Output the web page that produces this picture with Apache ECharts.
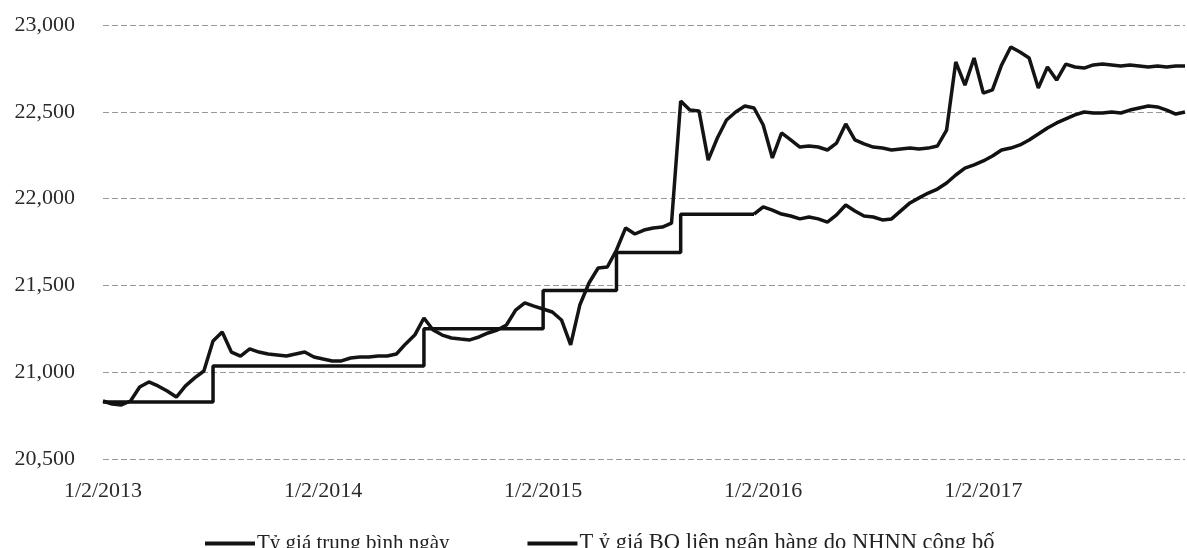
<!DOCTYPE html>
<html>
<head>
<meta charset="utf-8">
<script src="https://cdn.jsdelivr.net/npm/echarts@6/dist/echarts.min.js"></script>
<style>
html,body{margin:0;padding:0;background:#fff;}
#chart{width:1187px;height:548px;}
</style>
</head>
<body>
<div id="chart"></div>
<script>
// Categories (semi-monthly dates, m/d/yyyy)
const categories = (
"1/2/2013,1/16/2013,2/2/2013,2/16/2013,3/2/2013,3/16/2013,4/2/2013,4/16/2013,5/2/2013,5/16/2013,6/2/2013,6/16/2013,7/2/2013,7/16/2013,8/2/2013,8/16/2013,9/2/2013,9/16/2013,10/2/2013,10/16/2013,11/2/2013,11/16/2013,12/2/2013,12/16/2013," +
"1/2/2014,1/16/2014,2/2/2014,2/16/2014,3/2/2014,3/16/2014,4/2/2014,4/16/2014,5/2/2014,5/16/2014,6/2/2014,6/16/2014,7/2/2014,7/16/2014,8/2/2014,8/16/2014,9/2/2014,9/16/2014,10/2/2014,10/16/2014,11/2/2014,11/16/2014,12/2/2014,12/16/2014," +
"1/2/2015,1/16/2015,2/2/2015,2/16/2015,3/2/2015,3/16/2015,4/2/2015,4/16/2015,5/2/2015,5/16/2015,6/2/2015,6/16/2015,7/2/2015,7/16/2015,8/2/2015,8/16/2015,9/2/2015,9/16/2015,10/2/2015,10/16/2015,11/2/2015,11/16/2015,12/2/2015,12/16/2015," +
"1/2/2016,1/16/2016,2/2/2016,2/16/2016,3/2/2016,3/16/2016,4/2/2016,4/16/2016,5/2/2016,5/16/2016,6/2/2016,6/16/2016,7/2/2016,7/16/2016,8/2/2016,8/16/2016,9/2/2016,9/16/2016,10/2/2016,10/16/2016,11/2/2016,11/16/2016,12/2/2016,12/16/2016," +
"1/2/2017,1/16/2017,2/2/2017,2/16/2017,3/2/2017,3/16/2017,4/2/2017,4/16/2017,5/2/2017,5/16/2017,6/2/2017,6/16/2017,7/2/2017,7/16/2017,8/2/2017,8/16/2017,9/2/2017,9/16/2017,10/2/2017,10/16/2017,11/2/2017,11/16/2017,12/2/2017"
).split(',');

const tickLabels = ['1/2/2013','1/2/2014','1/2/2015','1/2/2016','1/2/2017'];

const seriesNames = ['Tỷ giá trung bình ngày', 'T ỷ giá BQ liên ngân hàng do NHNN công bố'];

// Daily average rate
const dailyAvg = [
20834,20817,20811,20834,20915,20944,20921,20892,20857,20921,20967,21007,
21180,21232,21116,21093,21134,21116,21105,21099,21093,21105,21116,21088,
21076,21065,21065,21082,21088,21088,21093,21093,21105,21163,21214,21312,
21243,21214,21197,21191,21186,21203,21226,21243,21272,21358,21399,21381,
21364,21347,21301,21157,21387,21514,21600,21606,21704,21831,21796,21819,
21831,21836,21859,22562,22510,22505,22222,22349,22453,22499,22533,22522,
22424,22234,22378,22338,22297,22303,22297,22280,22320,22430,22338,22315,
22297,22291,22280,22286,22291,22286,22291,22303,22395,22787,22654,22810,
22608,22626,22770,22873,22844,22810,22637,22758,22683,22775,22758,22752,
22770,22775,22770,22764,22770,22764,22758,22764,22758,22764,22764
];

// SBV interbank average rate, stepped period (2013 - 2015)
const sbvStep = [
20828,20828,20828,20828,20828,20828,20828,20828,20828,20828,20828,20828,
21036,21036,21036,21036,21036,21036,21036,21036,21036,21036,21036,21036,
21036,21036,21036,21036,21036,21036,21036,21036,21036,21036,21036,
21250,21250,21250,21250,21250,21250,21250,21250,21250,21250,21250,21250,21250,
21470,21470,21470,21470,21470,21470,21470,21470,
21690,21690,21690,21690,21690,21690,21690,
21910,21910,21910,21910,21910,21910,21910,21910,21910
];

// SBV rate, daily period (from 12/16/2015)
const sbvDailyStart = '12/16/2015';
const sbvDaily = [
21910,21952,21934,21911,21900,21883,21894,21883,21865,21906,21963,21929,
21900,21894,21877,21883,21929,21975,22004,22032,22055,22090,22136,22176,
22194,22217,22245,22280,22291,22309,22338,22372,22407,22436,22459,22482,
22499,22493,22493,22499,22493,22510,22522,22533,22528,22510,22487,22499
];

const startIdx = categories.indexOf(sbvDailyStart);
const sbvDailyFull = new Array(startIdx).fill(null).concat(sbvDaily);

const FONT = '"Liberation Serif", "Times New Roman", serif';
const chart = echarts.init(document.getElementById('chart'), null, {renderer: 'canvas'});
chart.setOption({
  animation: false,
  backgroundColor: '#ffffff',
  grid: {left: 103, right: 2, top: 25, bottom: 89, containLabel: false},
  legend: {
    left: 200,
    top: 527,
    itemWidth: 50,
    itemHeight: 4,
    itemGap: 78,
    icon: 'rect',
    data: seriesNames,
    formatter: function (name) {
      return name === seriesNames[1] ? '{b|' + name + '}' : '{a|' + name + '}';
    },
    textStyle: {
      fontFamily: FONT, fontSize: 21, color: '#222', padding: [0, 0, 0, -3],
      rich: {
        a: {fontFamily: FONT, fontSize: 21, color: '#222'},
        b: {fontFamily: FONT, fontSize: 22.5, color: '#222'}
      }
    }
  },
  xAxis: {
    type: 'category',
    data: categories,
    boundaryGap: false,
    axisLine: {show: false},
    axisTick: {show: false},
    splitLine: {show: false},
    axisLabel: {
      interval: function (i, v) { return tickLabels.indexOf(v) >= 0; },
      fontFamily: FONT, fontSize: 22, color: '#2a2a2a', margin: 21
    }
  },
  yAxis: {
    type: 'value',
    min: 20500, max: 23000, interval: 500,
    axisLine: {show: false},
    axisTick: {show: false},
    splitLine: {show: true, lineStyle: {color: '#999999', width: 1, type: [6, 3]}},
    axisLabel: {
      fontFamily: FONT, fontSize: 22, color: '#2a2a2a', margin: 28,
      formatter: function (v) { return v.toLocaleString('en-US'); }
    }
  },
  series: [
    {name: seriesNames[0], type: 'line', data: dailyAvg, showSymbol: false, symbol: 'none',
     lineStyle: {color: '#141414', width: 3.5}, itemStyle: {color: '#141414'}},
    {name: seriesNames[1], type: 'line', data: sbvStep, step: 'end', showSymbol: false, symbol: 'none',
     lineStyle: {color: '#111', width: 3.5}, itemStyle: {color: '#111'}},
    {name: seriesNames[1], type: 'line', data: sbvDailyFull, showSymbol: false, symbol: 'none',
     lineStyle: {color: '#111', width: 3.5}, itemStyle: {color: '#111'}}
  ]
});
</script>
</body>
</html>
